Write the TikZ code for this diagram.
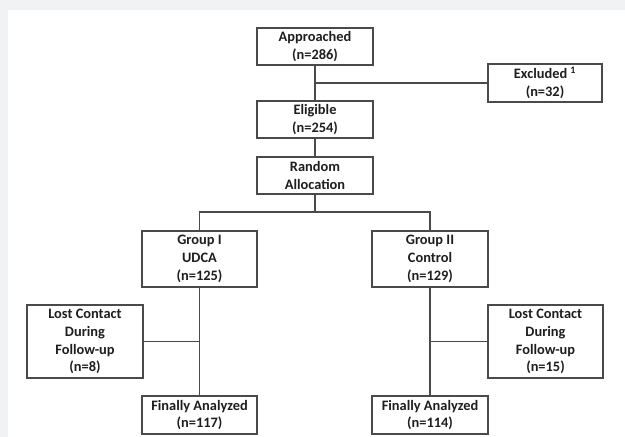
\documentclass[tikz,border=0pt]{standalone}
\usepackage{fontspec}
\setmainfont{Carlito}
\definecolor{bggray}{HTML}{F1F2F4}
\definecolor{linegray}{HTML}{4A4A4A}
\definecolor{txt}{HTML}{1E1E1E}
\begin{document}
\begin{tikzpicture}[x=1pt,y=-1pt,
  box/.style={draw=linegray, line width=1.3pt, fill=white, inner sep=0pt, align=center,
    text=txt, font=\fontsize{14.4}{17.8}\selectfont\bfseries},
  conn/.style={draw=linegray, line width=1.1pt}]
\useasboundingbox (0,0) rectangle (625,437);
\fill[bggray] (0,0) rectangle (625,437);
\fill[white] (8,10) rectangle (625,437);

\node[box, minimum width=116pt, minimum height=37pt] (app) at (315,46.5) {Approached\\(n=286)};
\node[box, minimum width=114pt, minimum height=38pt] (exc) at (545,83) {Excluded \textsuperscript{1}\\(n=32)};
\node[box, minimum width=116pt, minimum height=37pt] (eli) at (315,119.5) {Eligible\\(n=254)};
\node[box, minimum width=116pt, minimum height=37pt] (rnd) at (315,175.5) {Random\\Allocation};
\node[box, minimum width=115pt, minimum height=56pt] (g1) at (199.5,259) {Group I\\UDCA\\(n=125)};
\node[box, minimum width=116pt, minimum height=56pt] (g2) at (430,259) {Group II\\Control\\(n=129)};
\node[box, minimum width=116pt, minimum height=73pt] (l1) at (85,341.5) {Lost Contact\\During\\Follow-up\\(n=8)};
\node[box, minimum width=115pt, minimum height=73pt] (l2) at (545.5,341.5) {Lost Contact\\During\\Follow-up\\(n=15)};
\node[box, minimum width=115pt, minimum height=38pt] (f1) at (199.5,415) {Finally Analyzed\\(n=117)};
\node[box, minimum width=116pt, minimum height=38pt] (f2) at (430,415) {Finally Analyzed\\(n=114)};

\coordinate (sp) at (315,212);
\draw[conn] (app) -- (eli);
\draw[conn] (exc.west) -- (exc.west -| app.south);
\draw[conn] (eli) -- (rnd);
\draw[conn] (rnd) -- (sp);
\draw[conn] (g1.north) |- (sp) -| (g2.north);
\draw[conn] (g1) -- (f1);
\draw[conn] (g2) -- (f2);
\draw[conn] (l1.east) -- (l1.east -| g1.south);
\draw[conn] (l2.west) -- (l2.west -| g2.south);
\end{tikzpicture}
\end{document}
